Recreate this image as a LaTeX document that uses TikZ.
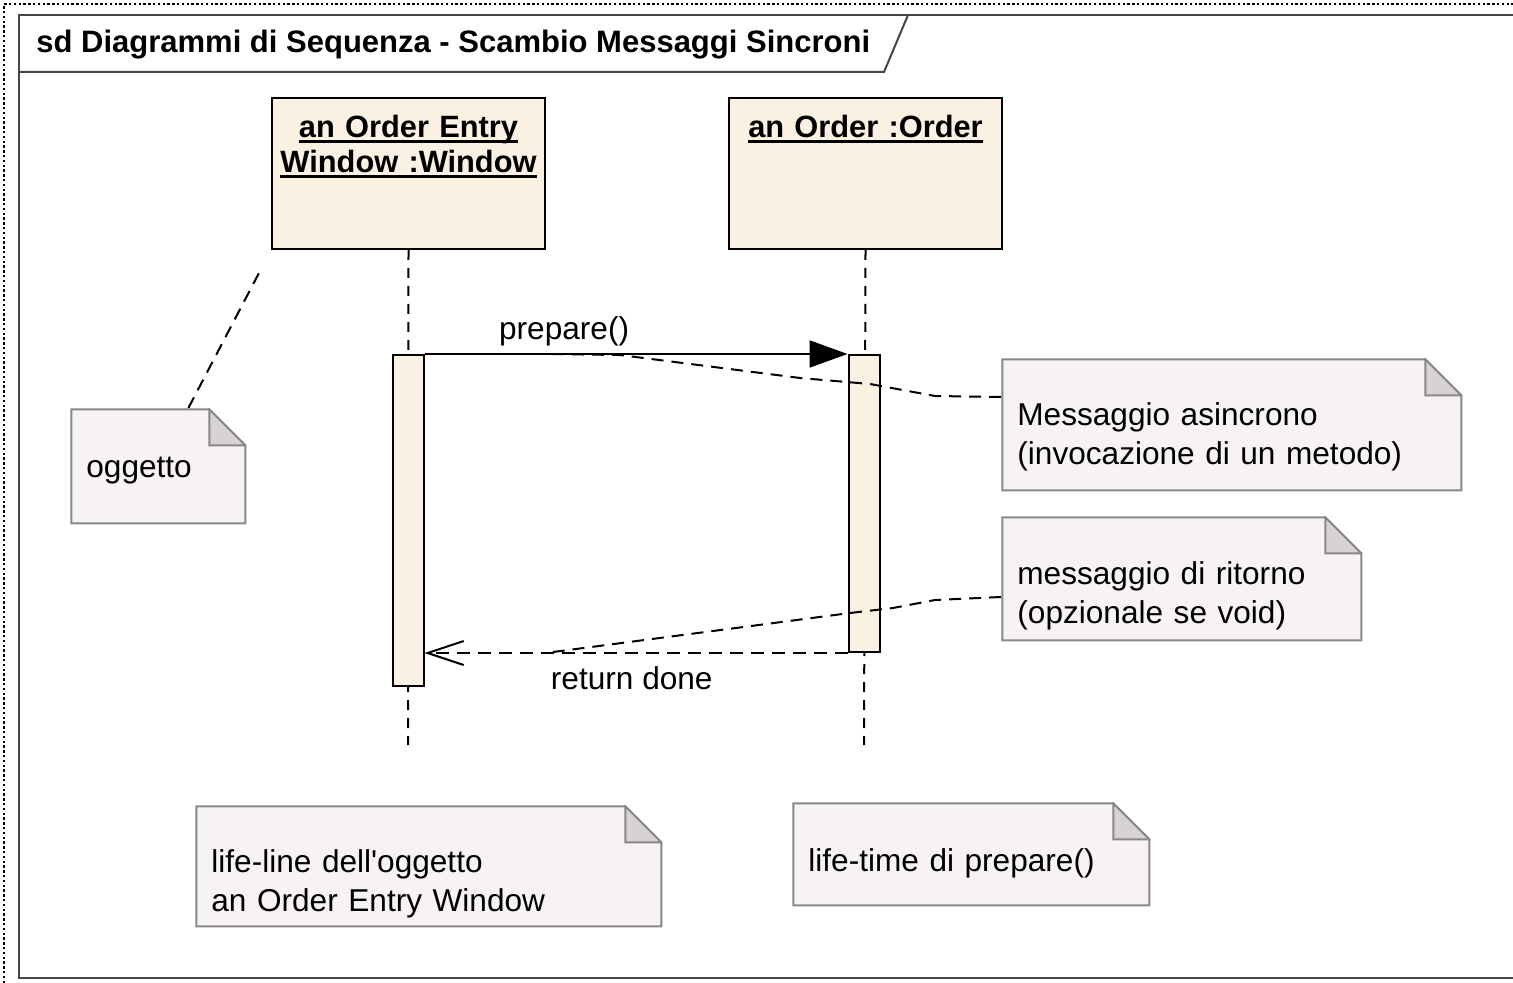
\documentclass[tikz,border=0pt]{standalone}
\usepackage{fontspec}
\setmainfont{Liberation Sans}
\usepackage{xcolor}
\usepackage{tikz}
\usetikzlibrary{arrows.meta}

\definecolor{objfill}{RGB}{251,241,226}
\definecolor{notefill}{RGB}{246,242,246}
\definecolor{notegray}{RGB}{136,136,136}
\definecolor{foldfill}{RGB}{214,210,214}
\definecolor{framecol}{RGB}{70,70,70}

\newcommand{\bodyfont}{\fontsize{15.8}{19.5}\selectfont}
\newcommand{\headfont}{\fontsize{15.4}{17.5}\selectfont\bfseries}
\newcommand{\titlefont}{\fontsize{15.5}{18}\selectfont\bfseries}
\newsavebox{\namebox}
\newcommand{\objname}[1]{\leavevmode\sbox{\namebox}{#1}\rlap{\rule[-2.4pt]{\wd\namebox}{1.2pt}}\usebox{\namebox}}

\begin{document}
\begin{tikzpicture}
	[x=0.5pt,y=-0.5pt,
	obj/.style={rectangle,draw=black,fill=objfill,line width=1pt,inner sep=0pt,anchor=north west,align=center,font=\headfont,text width=136.5pt,text height=20pt,text depth=55.5pt},
	bar/.style={rectangle,draw=black,fill=objfill,line width=1pt,inner sep=0pt,anchor=north,minimum width=15.5pt},
	note/.style n args={3}{rectangle,fill=white,anchor=north west,inner xsep=8pt,inner ysep=0pt,align=left,font=\bodyfont,text width=#1,text height=#2,text depth=#3,
		path picture={
			\draw[draw=notegray,fill=notefill,line width=1pt]
				([shift={(0.5pt,-0.5pt)}]path picture bounding box.north west)
				-- ([shift={(-18.5pt,-0.5pt)}]path picture bounding box.north east)
				-- ([shift={(-0.5pt,-18.5pt)}]path picture bounding box.north east)
				-- ([shift={(-0.5pt,0.5pt)}]path picture bounding box.south east)
				-- ([shift={(0.5pt,0.5pt)}]path picture bounding box.south west) -- cycle;
			\draw[draw=notegray,fill=foldfill,line width=1pt]
				([shift={(-18.5pt,-0.5pt)}]path picture bounding box.north east)
				-- ([shift={(-18.5pt,-18.5pt)}]path picture bounding box.north east)
				-- ([shift={(-0.5pt,-18.5pt)}]path picture bounding box.north east) -- cycle;
		}},
	lifeline/.style={line width=1pt,dash pattern=on 5pt off 4pt},
	link/.style={line width=1pt,dash pattern=on 6pt off 4pt},
	syncmsg/.style={line width=1pt,-{Triangle[length=19pt,width=13.5pt]}},
	retmsg/.style={line width=1pt,dash pattern=on 6.5pt off 4pt,-{Straight Barb[length=18pt,width=12pt]}},
	msglabel/.style={font=\bodyfont,inner sep=3.3pt}]
	\useasboundingbox (0,0) rectangle (1513,983);
	% cornice del frame
	\draw[line width=1.2pt,dash pattern=on 1.2pt off 1.2pt] (4,983) -- (4,4) -- (1513,4);
	\draw[framecol,line width=1pt] (1513,15) -- (19,15) -- (19,978) -- (1513,978);
	\draw[framecol,line width=1pt] (19,72) -- (884,72) -- (908,15);
	\node[font=\titlefont,inner sep=0pt,anchor=base west] (sdTitle) at (36,53) {sd Diagrammi di Sequenza - Scambio Messaggi Sincroni};
	% oggetti
	\node[obj] (win) at (271,97) {\objname{an Order Entry}\\\objname{Window :Window}};
	\node[obj] (ord) at (728,97) {\objname{an Order :Order}};
	\coordinate (winEnd) at (408,745);
	\coordinate (ordEnd) at (864,745);
	\foreach \from/\to in {win/winEnd,ord/ordEnd}
		\draw[lifeline] (\from.south) -- (\to);
	\node[bar,minimum height=165.5pt] (act1) at (408,354) {};
	\node[bar,minimum height=148.5pt] (act2) at (864,354) {};
	% messaggi
	\draw[syncmsg] (act1.north east) -- (act2.north west)
		node[msglabel,above,pos=0.33] (lblPrep) {prepare()}
		coordinate[pos=0.286] (prepMark);
	\draw[retmsg] (act2.south west) -- (act2.south west -| act1.east)
		node[msglabel,below=3pt,pos=0.51] (lblRet) {return done}
		coordinate[pos=0.714] (retMark);
	% note
	\node[note={72pt}{34.5pt}{23.5pt}] (nOgg) at (70,408) {oggetto};
	\node[note={214.5pt}{33.5pt}{33pt}] (nAsync) at (1001,358) {Messaggio asincrono\\(invocazione di un metodo)};
	\node[note={164.5pt}{34pt}{28.5pt}] (nRet) at (1001,516) {messaggio di ritorno\\(opzionale se void)};
	\node[note={217.5pt}{33.5pt}{27.5pt}] (nLine) at (195,805) {life-line dell\textquotesingle oggetto\\an Order Entry Window};
	\node[note={163pt}{34.5pt}{17.5pt}] (nTime) at (792,802) {life-time di prepare()};
	\draw[link,shorten >=12pt] ([xshift=15pt]nOgg.north) -- (win.south west);
	\draw[link] ([yshift=-19.5pt]nAsync.north west) -- ++(-66,-1) -- ++(-65,-12) -- ++(-70,-6) -- ++(-180,-23) -- (prepMark);
	\draw[link] ([yshift=-40.5pt]nRet.north west) -- ++(-66,3) -- ++(-42,8) -- ++(-43,5) -- (retMark);
\end{tikzpicture}
\end{document}
